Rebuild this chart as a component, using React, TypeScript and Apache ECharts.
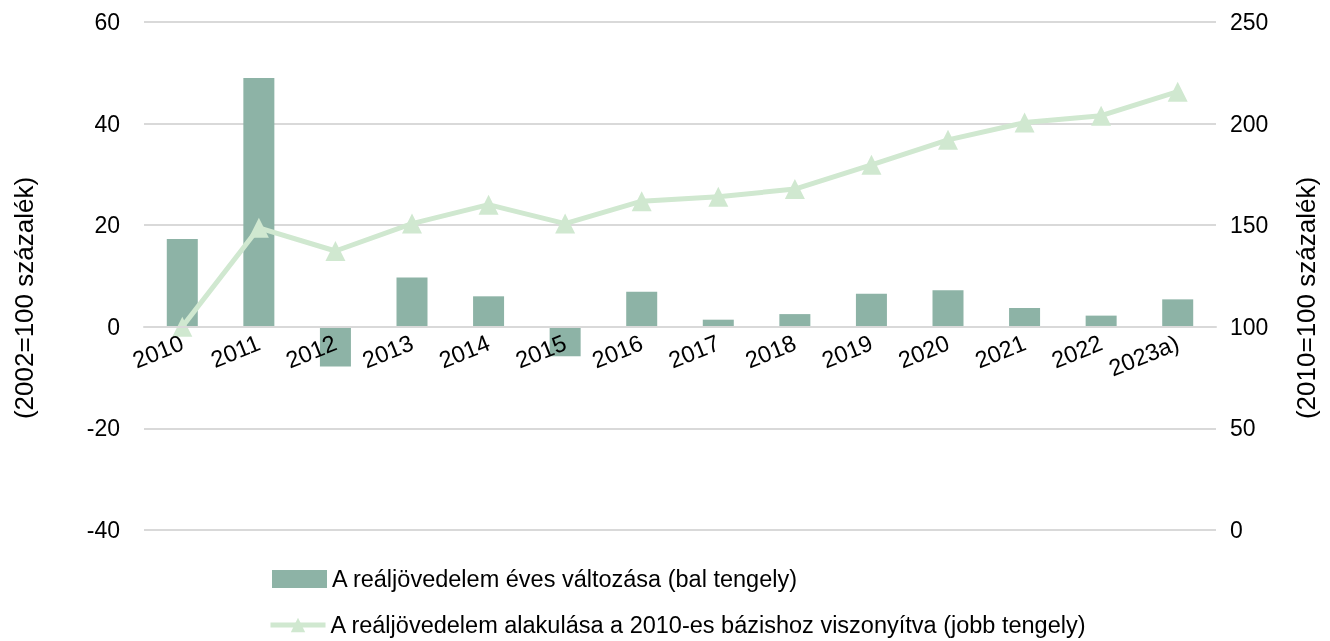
import React, { useEffect, useRef } from "react";
import * as echarts from "echarts";

const categories = ["2010", "2011", "2012", "2013", "2014", "2015", "2016", "2017", "2018", "2019", "2020", "2021", "2022", "2023a)"];
const annualChange = [17.3, 49.0, -7.8, 9.7, 6.0, -5.8, 6.9, 1.4, 2.5, 6.5, 7.2, 3.7, 2.2, 5.4];
const indexVs2010 = [100, 148.7, 137.3, 150.8, 160.1, 150.8, 161.8, 164.0, 167.8, 179.7, 192.0, 200.5, 203.9, 215.7];
const leftTicks = { min: -40, max: 60, interval: 20 };
const rightTicks = { min: 0, max: 250, interval: 50 };
const barName = "A reáljövedelem éves változása (bal tengely)";
const lineName = "A reáljövedelem alakulása a 2010-es bázishoz viszonyítva (jobb tengely)";
const leftAxisName = "(2002=100 százalék)";
const rightAxisName = "(2010=100 százalék)";

const FONT = "Liberation Sans, Arial, sans-serif";

export default function App() {
  const ref = useRef<HTMLDivElement>(null);
  useEffect(() => {
    if (!ref.current) return;
    const chart = echarts.init(ref.current, undefined, { renderer: "svg" });
    const legendText = { fontSize: 23.5, color: "#000", fontFamily: FONT };
    const gridTop = 22;
    const gridBottom = 111;
    const plotH = 641 - gridTop - gridBottom;
    const zeroOffset = -(plotH * (0 - leftTicks.min)) / (leftTicks.max - leftTicks.min);
    chart.setOption({
      animation: false,
      textStyle: { fontFamily: FONT },
      grid: { left: 144, right: 114, top: gridTop, bottom: gridBottom, containLabel: false },
      graphic: [
        {
          type: "text",
          x: 24,
          y: 298,
          rotation: Math.PI / 2,
          style: { text: leftAxisName, font: `26px ${FONT}`, fill: "#000", align: "center", verticalAlign: "middle" },
        },
        {
          type: "text",
          x: 1306,
          y: 298,
          rotation: Math.PI / 2,
          style: { text: rightAxisName, font: `26px ${FONT}`, fill: "#000", align: "center", verticalAlign: "middle" },
        },
      ],
      legend: [
        {
          left: 272,
          top: 567,
          padding: 0,
          itemWidth: 55,
          itemHeight: 18,
          itemGap: 0,
          textStyle: legendText,
          data: [{ name: barName, icon: "rect" }],
        },
        {
          left: 268,
          top: 613,
          padding: 0,
          itemWidth: 55,
          itemHeight: 18,
          itemGap: 0,
          textStyle: legendText,
          lineStyle: { width: 5 },
          data: [{ name: lineName }],
        },
      ],
      xAxis: {
        type: "category",
        data: categories,
        offset: zeroOffset,
        z: 5,
        axisTick: { show: false },
        axisLine: { onZero: false, lineStyle: { color: "#d9d9d9", width: 2 } },
        axisLabel: { interval: 0, rotate: 22, fontSize: 23.5, color: "#000", margin: 15, fontFamily: FONT },
      },
      yAxis: [
        {
          type: "value",
          min: leftTicks.min,
          max: leftTicks.max,
          interval: leftTicks.interval,
          axisLine: { show: false },
          axisTick: { show: false },
          axisLabel: { fontSize: 23, color: "#000", margin: 24, fontFamily: FONT },
          splitLine: { lineStyle: { color: "#d9d9d9", width: 2 } },
        },
        {
          type: "value",
          min: rightTicks.min,
          max: rightTicks.max,
          interval: rightTicks.interval,
          axisLine: { show: false },
          axisTick: { show: false },
          axisLabel: { fontSize: 23, color: "#000", margin: 14, fontFamily: FONT },
          splitLine: { show: false },
        },
      ],
      series: [
        {
          name: barName,
          type: "bar",
          yAxisIndex: 0,
          data: annualChange,
          barWidth: 31,
          itemStyle: { color: "#8db3a6" },
        },
        {
          name: lineName,
          type: "line",
          yAxisIndex: 1,
          data: indexVs2010,
          symbol: "triangle",
          symbolSize: 20,
          lineStyle: { color: "#d0e8d0", width: 5 },
          itemStyle: { color: "#d0e8d0" },
          z: 3,
        },
      ],
    });
    return () => chart.dispose();
  }, []);
  return <div ref={ref} style={{ width: 1330, height: 641, position: "fixed", left: 0, top: 0 }} />;
}
